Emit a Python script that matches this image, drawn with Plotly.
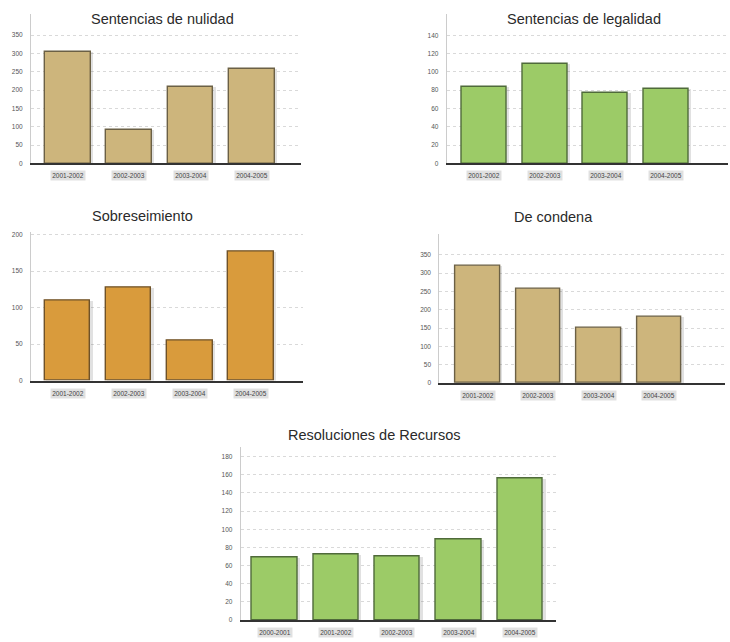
import plotly.graph_objects as go

W, H = 730, 642

# --- data -------------------------------------------------------------
periodos_4 = ["2001-2002", "2002-2003", "2003-2004", "2004-2005"]
periodos_5 = ["2000-2001", "2001-2002", "2002-2003", "2003-2004", "2004-2005"]

nulidad = [305, 92, 208, 258]
legalidad = [84, 109, 77, 81]
sobreseimiento = [109, 128, 55, 177]
condena = [320, 257, 151, 180]
recursos = [69, 72, 70, 89, 156]

titulos = [
    "Sentencias de nulidad",
    "Sentencias de legalidad",
    "Sobreseimiento",
    "De condena",
    "Resoluciones de Recursos",
]

TAN = "#CDB57C"
GREEN = "#9CCB67"
ORANGE = "#D99B3C"
OUTLINE = {"#CDB57C": "#6b6045", "#9CCB67": "#4f6a3a", "#D99B3C": "#6f5228"}

FONT = "Liberation Sans, Arial, sans-serif"

# panel layout in pixels: x0, x1 (plot area), baseline y, top y, x range, y max, tick step, title centre
panels = [
    dict(cats=periodos_4, vals=nulidad, color=TAN, x=(31, 301), y=(163.5, 13),
         xr=(-0.6, 3.8), ymax=408, step=50, top=350, title=(162, 18)),
    dict(cats=periodos_4, vals=legalidad, color=GREEN, x=(446.7, 728), y=(163.5, 13),
         xr=(-0.62, 4.02), ymax=163.3, step=20, top=140, title=(584, 18)),
    dict(cats=periodos_4, vals=sobreseimiento, color=ORANGE, x=(31, 303), y=(382, 232),
         xr=(-0.6, 3.85), ymax=204, step=50, top=200, title=(142, 216)),
    dict(cats=periodos_4, vals=condena, color=TAN, x=(439.3, 725), y=(384.5, 234.3),
         xr=(-0.64, 4.09), ymax=407, step=50, top=350, title=(553, 217)),
    dict(cats=periodos_5, vals=recursos, color=GREEN, x=(240.7, 556), y=(623, 448.3),
         xr=(-0.55, 4.58), ymax=191, step=20, top=180, title=(374, 437)),
]


def fx(px):
    return px / W


def fy(py):
    return 1 - py / H


fig = go.Figure()
annotations = []
BAR_W = 0.74

for i, p in enumerate(panels):
    n = i + 1
    xa = "x" if n == 1 else f"x{n}"
    ya = "y" if n == 1 else f"y{n}"
    idx = list(range(len(p["cats"])))

    # soft drop shadow behind each bar
    fig.add_trace(go.Bar(
        x=idx, y=p["vals"], xaxis=xa, yaxis=ya,
        width=BAR_W + 0.03, offset=-BAR_W / 2 + 0.01,
        marker=dict(color="rgba(70,70,70,0.16)", line=dict(width=0)),
        hoverinfo="skip", showlegend=False,
    ))
    fig.add_trace(go.Bar(
        x=idx, y=p["vals"], xaxis=xa, yaxis=ya, width=BAR_W,
        marker=dict(color=p["color"], line=dict(color=OUTLINE[p["color"]], width=1.4)),
        name=titulos[i], showlegend=False,
    ))

    fig.update_layout(**{
        ("xaxis" if n == 1 else f"xaxis{n}"): dict(
            domain=[fx(p["x"][0]), fx(p["x"][1])], anchor=ya,
            range=list(p["xr"]), showgrid=False, zeroline=False,
            showticklabels=False, ticks="",
            showline=True, linecolor="#333333", linewidth=2,
        ),
        ("yaxis" if n == 1 else f"yaxis{n}"): dict(
            domain=[fy(p["y"][0]), fy(p["y"][1])], anchor=xa,
            range=[0, p["ymax"]],
            tickvals=list(range(0, p["top"] + 1, p["step"])),
            showgrid=True, gridcolor="#d9d9d9", griddash="dot", gridwidth=1,
            zeroline=False, showline=True, linecolor="#cccccc", linewidth=1,
            ticks="outside", ticklen=6, tickcolor="rgba(0,0,0,0)",
            tickfont=dict(family=FONT, size=6.5, color="#555555"),
        ),
    })

    # category labels in soft grey pills under the baseline
    for j, c in enumerate(p["cats"]):
        annotations.append(dict(
            x=j, y=0, xref=xa, yref=f"{ya} domain", yshift=-12.5,
            text=c, showarrow=False, yanchor="middle", xanchor="center",
            font=dict(family=FONT, size=6.5, color="#444444"),
            bgcolor="rgba(0,0,0,0.12)", borderpad=1.2,
        ))

    tx, ty = p["title"]
    annotations.append(dict(
        x=fx(tx), y=fy(ty), xref="paper", yref="paper",
        text=titulos[i], showarrow=False, xanchor="center", yanchor="middle",
        font=dict(family=FONT, size=14.5, color="#2a2a2a"),
    ))

fig.update_layout(
    width=W, height=H,
    margin=dict(l=0, r=0, t=0, b=0),
    paper_bgcolor="white", plot_bgcolor="white",
    barmode="overlay", bargap=0,
    annotations=annotations,
    showlegend=False,
)

fig.write_html("out.html")
